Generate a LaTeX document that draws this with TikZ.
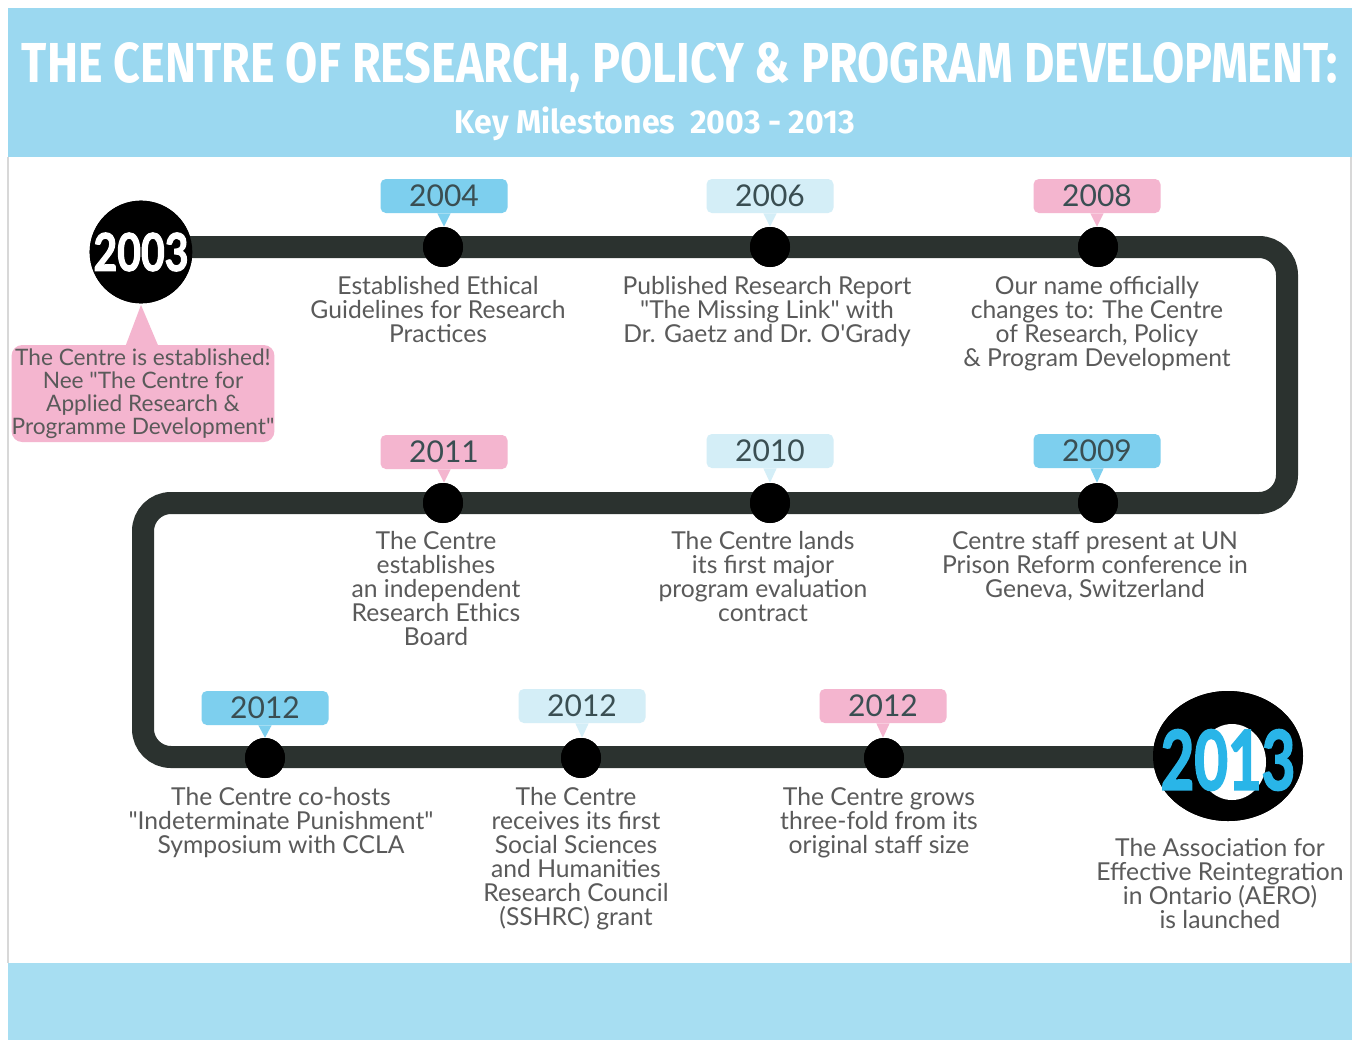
\documentclass[tikz,border=0pt]{standalone}
\usepackage{fontspec}
\setmainfont{Lato}
\newfontfamily\titlefont{Fira Sans}
\newfontfamily\heavy[BoldFeatures={FakeBold=2.5}]{Lato}
\usetikzlibrary{shapes.geometric}
\definecolor{hdr}{HTML}{9BD8F0}
\definecolor{band}{HTML}{A7DEF2}
\definecolor{track}{HTML}{2B322F}
\definecolor{tagblue}{HTML}{7DCFEE}
\definecolor{taglight}{HTML}{D4EEF7}
\definecolor{tagpink}{HTML}{F4B5CF}
\definecolor{txt}{HTML}{5A5A5A}
\definecolor{tagtxt}{HTML}{3A4E52}
\definecolor{cyanyear}{HTML}{29B5E8}
\definecolor{frame}{HTML}{D8D8D8}
\newcommand{\dq}{\textquotedbl}
\begin{document}
\begin{tikzpicture}[x=0.75pt,y=-0.75pt,
  dot/.style={circle,fill=black,minimum size=30pt,inner sep=0pt},
  desc/.style={align=center,text=txt,font=\fontsize{18.5}{18}\selectfont,inner sep=0pt,anchor=north},
  tag/.style={rounded corners=4pt,minimum width=95.25pt,minimum height=25.5pt,inner sep=0pt,text=tagtxt,font=\fontsize{22.5}{22.5}\selectfont}]
\useasboundingbox (0,0) rectangle (1354,1040);
\fill[white] (0,0) rectangle (1354,1040);
% header and bottom band
\fill[hdr] (8,8) rectangle (1352,157);
\fill[band] (8,963) rectangle (1352,1040);
\draw[frame,line width=1pt] (8,157) -- (8,963);
\draw[frame,line width=1pt] (1351,157) -- (1351,963);
\node[anchor=base,white,inner sep=0pt] (title) at (680,82)
  {\resizebox{987pt}{30pt}{\titlefont\bfseries THE CENTRE OF RESEARCH, POLICY \& PROGRAM DEVELOPMENT:}};
\node[anchor=base,white,inner sep=0pt] (subtitle) at (655,133)
  {\resizebox{300pt}{20pt}{\titlefont\bfseries Key Milestones\ \ 2003 - 2013}};
% end circles
\node[circle,fill=black,minimum size=77pt,inner sep=0pt] (c03) at (141,252) {};
\node[ellipse,fill=black,minimum width=112.5pt,minimum height=97.5pt,inner sep=0pt] (c13) at (1228,756) {};
% track
\coordinate (k1) at (1287,247);
\coordinate (k2) at (1287,503);
\coordinate (k3) at (143,503);
\coordinate (k4) at (143,757);
\draw[track,line width=16.5pt,rounded corners=21pt] (c03.center |- k1) -- (k1) -- (k2) -- (k3) -- (k4) -- (c13.center |- k4);
% redraw circles on top
\fill[black] (c03) circle[radius=38.5pt];
\fill[black] (c13) ellipse[x radius=56.25pt,y radius=48.75pt];
\fill[white] (1232,762) ellipse[x radius=25.5pt,y radius=28.5pt];
\node[white,inner sep=0pt] (y03) at (c03) {\resizebox{71.25pt}{28.5pt}{\heavy\bfseries 2003}};
\node[text=cyanyear,inner sep=0pt] (y13) at (1228,760) {\resizebox{101pt}{45pt}{\heavy\bfseries 2013}};
% 2003 callout
\fill[tagpink] (124,350) -- (141,305) -- (160,350) -- cycle;
\node[fill=tagpink,rounded corners=8pt,minimum width=196.5pt,minimum height=72.75pt,inner sep=0pt,align=center,text=txt,font=\fontsize{17}{17.25}\selectfont] (call03) at (143,393.5)
  {The Centre is established!\\Nee \dq The Centre for\\Applied Research \&\\Programme Development\dq};
% tags
\node[tag,fill=tagblue]  (t04) at (444,196) {2004};
\node[tag,fill=taglight] (t06) at (770,196) {2006};
\node[tag,fill=tagpink]  (t08) at (1097,196) {2008};
\node[tag,fill=tagpink]  (t11) at (444,452) {2011};
\node[tag,fill=taglight] (t10) at (770,451) {2010};
\node[tag,fill=tagblue]  (t09) at (1097,451) {2009};
\node[tag,fill=tagblue]  (t12a) at (265,708) {2012};
\node[tag,fill=taglight] (t12b) at (582,706) {2012};
\node[tag,fill=tagpink]  (t12c) at (883,706) {2012};
% dots
\node[dot] (p04) at (443,247) {};
\node[dot] (p06) at (770,247) {};
\node[dot] (p08) at (1098,247) {};
\node[dot] (p11) at (443,503) {};
\node[dot] (p10) at (770,503) {};
\node[dot] (p09) at (1098,503) {};
\node[dot] (p12a) at (265,758) {};
\node[dot] (p12b) at (581,758) {};
\node[dot] (p12c) at (884,758) {};
% pointers from tags to dots
\foreach \t/\p/\c in {t04/p04/tagblue,t06/p06/taglight,t08/p08/tagpink,t11/p11/tagpink,t10/p10/taglight,t09/p09/tagblue,t12a/p12a/tagblue,t12b/p12b/taglight,t12c/p12c/tagpink}
  \fill[\c] ([xshift=-5pt]\t.south) -- (\t.south |- \p.north) -- ([xshift=5pt]\t.south) -- cycle;
\foreach \p in {p04,p06,p08,p11,p10,p09,p12a,p12b,p12c}
  \fill[black] (\p) circle[radius=15pt];
% descriptions
\node[desc] (d04) at (438,276) {Established Ethical\\Guidelines for Research\\Practices};
\node[desc] (d06) at (767,276) {Published Research Report\\\dq The Missing Link\dq{} with\\Dr. Gaetz and Dr. O\textquotesingle Grady};
\node[desc] (d08) at (1097,276) {Our name officially\\changes to: The Centre\\of Research, Policy\\\& Program Development};
\node[desc] (d11) at (436,531) {The Centre\\establishes\\an independent\\Research Ethics\\Board};
\node[desc] (d10) at (763,531) {The Centre lands\\its first major\\program evaluation\\contract};
\node[desc] (d09) at (1095,531) {Centre staff present at UN\\Prison Reform conference in\\Geneva, Switzerland};
\node[desc] (d12a) at (281,787) {The Centre co-hosts\\\dq Indeterminate Punishment\dq\\Symposium with CCLA};
\node[desc] (d12b) at (576,787) {The Centre\\receives its first\\Social Sciences\\and Humanities\\Research Council\\(SSHRC) grant};
\node[desc] (d12c) at (879,787) {The Centre grows\\three-fold from its\\original staff size};
\node[desc] (d13) at (1220,838) {The Association for\\Effective Reintegration\\in Ontario (AERO)\\is launched};
\end{tikzpicture}
\end{document}
